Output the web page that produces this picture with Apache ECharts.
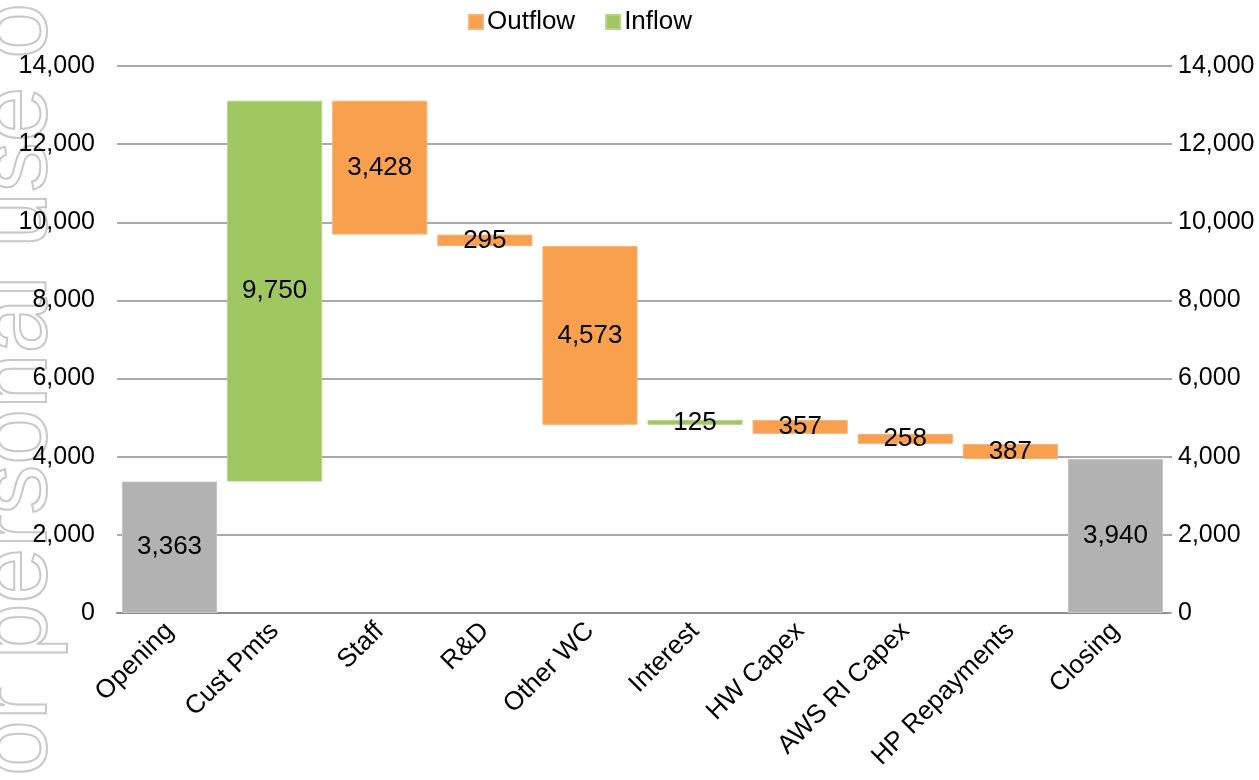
<!DOCTYPE html>
<html lang="en">
  <head>
    <meta charset="UTF-8" />
    <title>Cash waterfall</title>
    <style>
      * {
        margin: 0;
        padding: 0;
      }
    </style>
  </head>
  <body>
    <div id="main" style="width: 1259px; height: 780px;"></div>
    <script src="https://cdn.jsdelivr.net/npm/echarts@6/dist/echarts.min.js"></script>
    <script>
      // data
      const categories = ["Opening", "Cust Pmts", "Staff", "R&D", "Other WC", "Interest", "HW Capex", "AWS RI Capex", "HP Repayments", "Closing"];
      const opening = 3363;
      const closing = 3940;
      // movements between opening and closing (+ in, - out)
      const moves = [9750, -3428, -295, -4573, 125, -357, -258, -387];
      const yTicks = [0, 2000, 4000, 6000, 8000, 10000, 12000, 14000];

      function fmt(v) {
        return Number(v).toLocaleString("en-US");
      }

      // build stacked series
      let base = ["-"];
      let outflow = ["-"];
      let inflow = ["-"];
      let totals = [opening];
      let run = opening;
      for (let i = 0; i < moves.length; i++) {
        let m = moves[i];
        if (m >= 0) {
          base.push(run);
          inflow.push(m);
          outflow.push("-");
          run += m;
        } else {
          run += m;
          base.push(run);
          outflow.push(-m);
          inflow.push("-");
        }
        totals.push("-");
      }
      base.push("-");
      outflow.push("-");
      inflow.push("-");
      totals.push(closing);

      const font = "Liberation Sans";
      let labelStyle = {
        show: true,
        position: "inside",
        color: "#000",
        fontSize: 26,
        fontFamily: font,
        formatter: (p) => fmt(p.value),
      };

      function draw() {
        let myEcharts = echarts.init(document.getElementById("main"));
        let yAxisBase = {
          type: "value",
          min: yTicks[0],
          max: yTicks[yTicks.length - 1],
          interval: 2000,
          axisLine: { show: false },
          axisLabel: {
            color: "#000",
            fontSize: 25,
            fontFamily: font,
            formatter: (v) => fmt(v),
          },
        };
        let option = {
          animation: false,
          textStyle: { fontFamily: font },
          graphic: [
            {
              type: "text",
              z: -10,
              x: 18,
              y: 837,
              rotation: Math.PI / 2,
              style: {
                text: "For personal use only",
                font: "100px Liberation Sans",
                fill: "none",
                stroke: "#c8c8c8",
                lineWidth: 2,
                textAlign: "left",
                textVerticalAlign: "middle",
              },
            },
          ],
          legend: {
            data: ["Outflow", "Inflow"],
            top: 4,
            left: 463,
            itemWidth: 14,
            itemHeight: 14,
            itemGap: 30,
            icon: "rect",
            textStyle: { fontSize: 26, color: "#000", fontFamily: font, padding: [0, 0, 0, -1] },
          },
          grid: { left: 117, right: 91, top: 66, bottom: 167 },
          xAxis: {
            type: "category",
            data: categories,
            axisLine: { lineStyle: { color: "#8c8c8c", width: 2 } },
            axisTick: { show: false },
            axisLabel: {
              rotate: 45,
              interval: 0,
              color: "#000",
              fontSize: 26,
              fontFamily: font,
              margin: 14,
            },
          },
          yAxis: [
            Object.assign({}, yAxisBase, {
              position: "left",
              axisTick: { show: false },
              axisLabel: Object.assign({}, yAxisBase.axisLabel, { margin: 22 }),
              splitLine: { lineStyle: { color: "#8c8c8c", width: 1.5 } },
            }),
            Object.assign({}, yAxisBase, {
              position: "right",
              axisTick: { show: true, length: 4, lineStyle: { color: "#8c8c8c", width: 1.5 } },
              axisLabel: Object.assign({}, yAxisBase.axisLabel, { margin: 10 }),
              splitLine: { show: false },
            }),
          ],
          series: [
            {
              name: "base",
              type: "bar",
              stack: "w",
              data: base,
              itemStyle: { color: "transparent" },
              barCategoryGap: "9.5%",
              silent: true,
            },
            {
              name: "Outflow",
              type: "bar",
              stack: "w",
              data: outflow,
              itemStyle: { color: "#F9A04F", borderColor: "#f4b27a", borderWidth: 1 },
              label: labelStyle,
            },
            {
              name: "Inflow",
              type: "bar",
              stack: "w",
              data: inflow,
              itemStyle: { color: "#A0C660", borderColor: "#b7d28a", borderWidth: 1 },
              label: labelStyle,
            },
            {
              name: "Total",
              type: "bar",
              stack: "w",
              data: totals,
              itemStyle: { color: "#B2B2B2", borderColor: "#c4c4c4", borderWidth: 1 },
              label: labelStyle,
            },
          ],
        };
        myEcharts.setOption(option);
      }
      draw();
    </script>
  </body>
</html>
